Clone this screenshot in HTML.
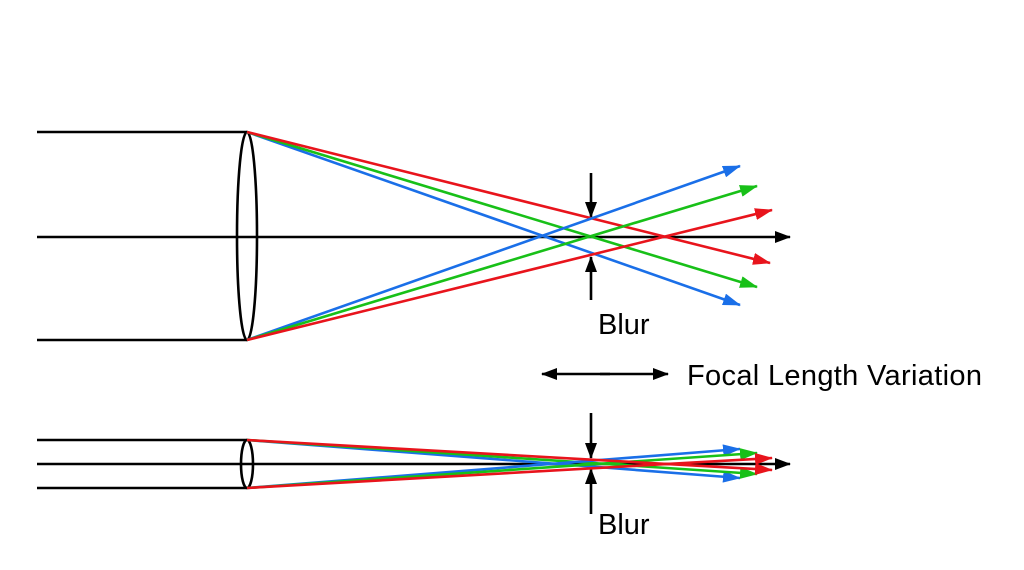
<!DOCTYPE html>
<html><head><style>body{margin:0;background:#fff}svg{display:block}</style></head><body>
<svg width="1024" height="570" viewBox="0 0 1024 570" xmlns="http://www.w3.org/2000/svg">
<defs>
<marker id="r" markerWidth="18" markerHeight="12" refX="17" refY="6" orient="auto" markerUnits="userSpaceOnUse"><path d="M0,0L18,6L0,12z" fill="#e8141c"/></marker>
<marker id="g" markerWidth="18" markerHeight="12" refX="17" refY="6" orient="auto" markerUnits="userSpaceOnUse"><path d="M0,0L18,6L0,12z" fill="#18c018"/></marker>
<marker id="b" markerWidth="18" markerHeight="12" refX="17" refY="6" orient="auto" markerUnits="userSpaceOnUse"><path d="M0,0L18,6L0,12z" fill="#1a6fe8"/></marker>
<marker id="a" markerWidth="16" markerHeight="12" refX="15" refY="6" orient="auto" markerUnits="userSpaceOnUse"><path d="M0,0L16,6L0,12z" fill="#000"/></marker>
</defs>
<g stroke="#000" stroke-width="2.6" fill="none">
<line x1="37" y1="132" x2="247" y2="132"/><line x1="37" y1="340" x2="247" y2="340"/>
<line x1="37" y1="237" x2="790" y2="237" marker-end="url(#a)"/>
<ellipse cx="247" cy="236" rx="10" ry="104"/>
<line x1="37" y1="440" x2="247" y2="440"/><line x1="37" y1="464" x2="790" y2="464" marker-end="url(#a)"/><line x1="37" y1="488" x2="247" y2="488"/>
<ellipse cx="247" cy="464" rx="6" ry="24"/>
<line x1="591" y1="173" x2="591" y2="217" marker-end="url(#a)"/>
<line x1="591" y1="300" x2="591" y2="257" marker-end="url(#a)"/>
<line x1="591" y1="413" x2="591" y2="458" marker-end="url(#a)"/>
<line x1="591" y1="514" x2="591" y2="469" marker-end="url(#a)"/>
<line x1="600" y1="374" x2="668" y2="374" marker-end="url(#a)"/>
<line x1="610" y1="374" x2="542" y2="374" marker-end="url(#a)"/>
</g>
<g stroke-width="2.6" fill="none">
<line x1="247" y1="132" x2="740" y2="305" stroke="#1a6fe8" marker-end="url(#b)"/>
<line x1="247" y1="132" x2="757" y2="287" stroke="#18c018" marker-end="url(#g)"/>
<line x1="247" y1="132" x2="770" y2="263" stroke="#e8141c" marker-end="url(#r)"/>
<line x1="247" y1="340" x2="740" y2="166" stroke="#1a6fe8" marker-end="url(#b)"/>
<line x1="247" y1="340" x2="757" y2="186" stroke="#18c018" marker-end="url(#g)"/>
<line x1="247" y1="340" x2="772" y2="210" stroke="#e8141c" marker-end="url(#r)"/>
<line x1="247" y1="440" x2="740" y2="478" stroke="#1a6fe8" marker-end="url(#b)"/>
<line x1="247" y1="440" x2="757" y2="474" stroke="#18c018" marker-end="url(#g)"/>
<line x1="247" y1="488" x2="740" y2="449" stroke="#1a6fe8" marker-end="url(#b)"/>
<line x1="247" y1="488" x2="757" y2="453" stroke="#18c018" marker-end="url(#g)"/>
<line x1="247" y1="440" x2="772" y2="470" stroke="#e8141c" marker-end="url(#r)"/>
<line x1="247" y1="488" x2="772" y2="458" stroke="#e8141c" marker-end="url(#r)"/>
</g>
<g font-family="Liberation Sans, sans-serif" fill="#000">
<text x="598" y="334" font-size="29">Blur</text>
<text x="598" y="534" font-size="29">Blur</text>
<text x="687" y="385" font-size="29" textLength="295">Focal Length Variation</text>
</g>
</svg>
</body></html>
